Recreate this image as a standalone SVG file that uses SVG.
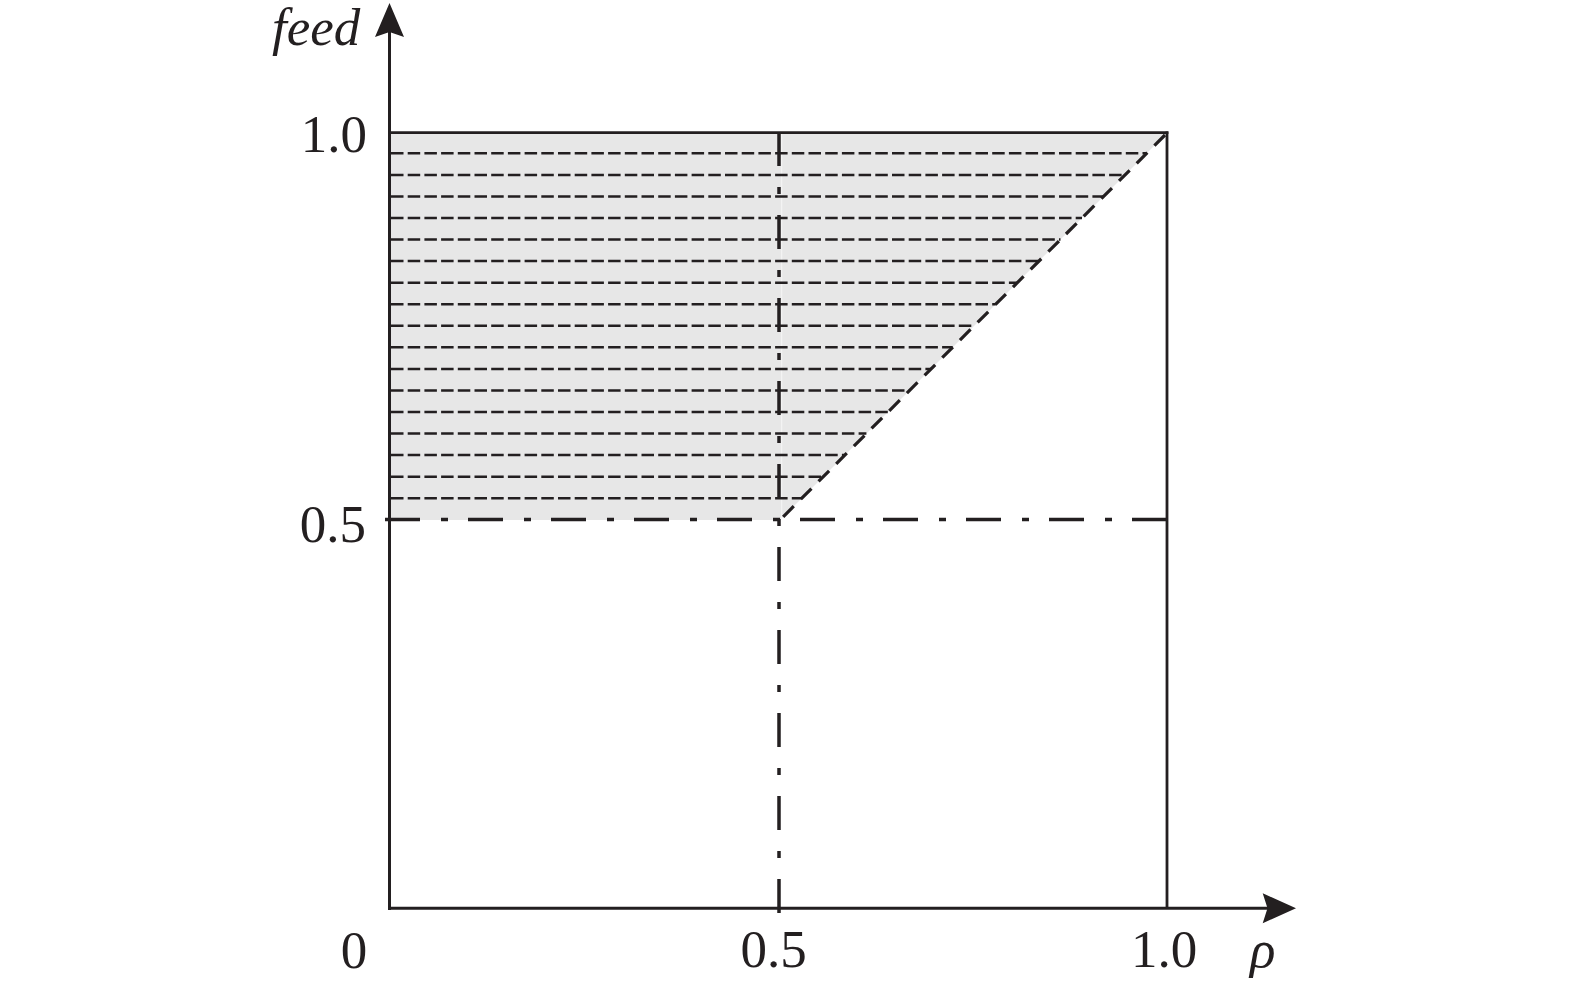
<svg xmlns="http://www.w3.org/2000/svg" width="1575" height="984" viewBox="0 0 1575 984">
<style>
.num{font-family:"Liberation Serif","Times New Roman",serif;font-size:53px;fill:#231f20}
.it{font-family:"Liberation Serif","Times New Roman",serif;font-style:italic;font-size:53px;fill:#231f20}
.axis{stroke:#231f20;stroke-width:3;fill:none}
.box{stroke:#231f20;stroke-width:2.8;fill:none}
.hatch{stroke:#231f20;stroke-width:2.5;stroke-dasharray:12.5 4.2;fill:none}
.dd{stroke:#231f20;stroke-width:3.5;fill:none}
.diag{stroke:#231f20;stroke-width:3.2;stroke-dasharray:15 10;fill:none}
</style>
<rect width="1575" height="984" fill="#ffffff"/>
<g id="region">
<polygon points="390,133 1167,133 780,520 390,520" fill="#e7e7e7"/>
<line x1="781.7" y1="134" x2="781.7" y2="518" stroke="#f6f6f6" stroke-width="1"/>
</g>
<g id="hatching">
<line class="hatch" x1="391" y1="153.3" x2="1146.7" y2="153.3"/>
<line class="hatch" x1="391" y1="174.9" x2="1125.1" y2="174.9"/>
<line class="hatch" x1="391" y1="196.4" x2="1103.6" y2="196.4"/>
<line class="hatch" x1="391" y1="218.0" x2="1082.0" y2="218.0"/>
<line class="hatch" x1="391" y1="239.5" x2="1060.5" y2="239.5"/>
<line class="hatch" x1="391" y1="261.1" x2="1038.9" y2="261.1"/>
<line class="hatch" x1="391" y1="282.7" x2="1017.3" y2="282.7"/>
<line class="hatch" x1="391" y1="304.2" x2="995.8" y2="304.2"/>
<line class="hatch" x1="391" y1="325.8" x2="974.2" y2="325.8"/>
<line class="hatch" x1="391" y1="347.3" x2="952.7" y2="347.3"/>
<line class="hatch" x1="391" y1="368.9" x2="931.1" y2="368.9"/>
<line class="hatch" x1="391" y1="390.5" x2="909.5" y2="390.5"/>
<line class="hatch" x1="391" y1="412.0" x2="888.0" y2="412.0"/>
<line class="hatch" x1="391" y1="433.6" x2="866.4" y2="433.6"/>
<line class="hatch" x1="391" y1="455.1" x2="844.9" y2="455.1"/>
<line class="hatch" x1="391" y1="476.7" x2="823.3" y2="476.7"/>
<line class="hatch" x1="391" y1="498.3" x2="801.7" y2="498.3"/>
</g>
<g id="connectors">
<line class="diag" x1="1165" y1="135" x2="780" y2="520"/>
<line class="dd" x1="385" y1="519.5" x2="1167" y2="519.5" stroke-dasharray="35 21 7 20"/>
<line class="dd" x1="779" y1="913" x2="779" y2="133" stroke-dasharray="34 21 7 21"/>
<line class="box" x1="389" y1="132.7" x2="1168.4" y2="132.7"/>
<line class="box" x1="1167" y1="131.5" x2="1167" y2="908"/>
<line class="axis" x1="389.5" y1="910" x2="389.5" y2="30"/>
<line class="axis" x1="388" y1="908.3" x2="1270" y2="908.3"/>
<polygon points="389.5,3 404,37 389.5,32 375,37" fill="#231f20"/>
<polygon points="1296,908.3 1262.7,923.3 1267.5,908.3 1262.7,893.3" fill="#231f20"/>
</g>
<g id="labels">
<text class="it" x="272" y="45" font-size="51">feed</text>
<text class="num" x="367" y="151.7" text-anchor="end">1.0</text>
<text class="num" x="366" y="541.7" text-anchor="end">0.5</text>
<text class="num" x="354" y="968" text-anchor="middle">0</text>
<text class="num" x="740.5" y="967">0.5</text>
<text class="num" x="1131" y="967">1.0</text>
<text class="it" x="1250" y="967">ρ</text>
</g>
</svg>
